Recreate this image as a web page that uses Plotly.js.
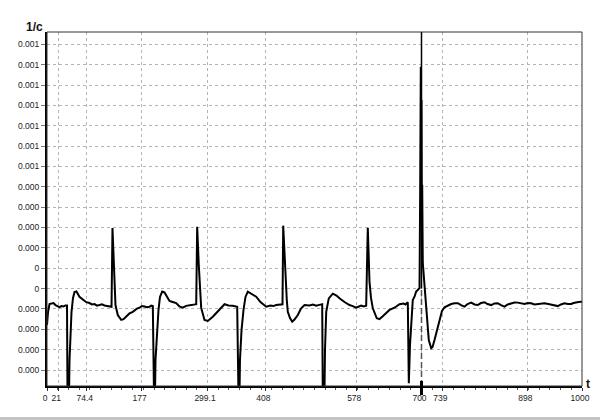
<!DOCTYPE html>
<html>
<head>
<meta charset="utf-8">
<script src="https://cdn.plot.ly/plotly-3.0.1.min.js"></script>
<style>
  html, body { margin: 0; padding: 0; background: #fff; }
  #chart { width: 600px; height: 420px; }
</style>
</head>
<body>
<div id="chart"></div>
<script>
// time axis samples (t)
const tValues = [
  0, 1.9, 4.7, 8.4, 12.1, 15.9, 19.6, 23.4, 27.1, 30.8, 34.6, 37.4,
  38.7, 40.2, 42.1, 43.9, 45.8, 48.6, 51.4, 55.1, 60.7, 68.2, 73.5, 79.4,
  84, 88.8, 93.5, 98.1, 102.8, 107.5, 115, 120.6,
  122.4, 124.3, 126.2, 128, 132.3, 138.7, 143, 148, 154.2, 160.4, 167.3,
  172.9, 177.5, 182.2, 187, 191.6, 195, 197.8,
  199.1, 200.9, 202.8, 205.6, 208.4, 211.2, 215.3, 219.6, 224, 229, 235,
  241.5, 247.5, 253.8, 260, 266.4, 272.5, 278.9,
  280.7, 283.7, 286, 288.2, 294.4, 300.6, 309.9, 316, 322.4, 331.8, 339.3,
  347.3, 355.5,
  356.6, 358.9, 360.7, 363.6, 367.3, 371, 375.3, 380.4, 391, 399, 404.5,
  409.7, 417.8, 423, 428.4, 434, 440.2,
  441.5, 445.8, 448.2, 450.1, 454.2, 458.3, 462.6, 468.8, 474.8, 481.3,
  490.7, 497, 503.2, 509, 514.4,
  515.9, 517.8, 519.6, 521.9, 526.7, 534.2, 541.1, 546.7, 556.1, 565.4,
  571.5, 577.9, 583, 587.3, 592, 596.6,
  599.6, 602.8, 605.6, 609, 616.4, 621.5, 627.1, 634, 640.2, 649.5, 654,
  658.9, 666.4, 670, 674.4,
  676.3, 678.5, 680.7, 683.7, 686.9, 690, 693.1, 696.3,
  697.4, 698.7, 699.4, 700, 700.6, 701.3, 702.4, 705.6, 708.8, 711.2, 713.6, 718.1,
  720.6, 724.3, 729, 733.6, 738.3, 743, 748.6, 755.5, 761.7, 767.9,
  774.8, 780.4, 786, 792.9, 799.1, 805.2, 811.2, 817.8, 823.4, 830.3,
  836.4, 842.6, 848.6, 855.1, 861.3, 867.7, 873.8, 880, 886, 892.5,
  898.7, 905, 911.2, 920.6, 929.9, 939.3, 946.7, 954.8, 960.7, 967.3,
  973.5, 979.8, 984.1, 989.2, 993.5, 998.5, 1000
];

// 1/c values
const invC = [
  -0.79e-4, -0.15e-4, 0.24e-4, 0.27e-4, 0.29e-4, 0.19e-4, 0.12e-4, 0.09e-4, 0.14e-4, 0.12e-4, 0.17e-4, 0.17e-4,
  -6e-4, -6e-4, -2.51e-4, -1.04e-4, -0.15e-4, 0.54e-4, 0.83e-4, 0.86e-4, 0.60e-4, 0.44e-4, 0.33e-4, 0.29e-4,
  0.22e-4, 0.24e-4, 0.16e-4, 0.19e-4, 0.23e-4, 0.17e-4, 0.14e-4, 0.11e-4,
  3.97e-4, 2.65e-4, 1.17e-4, 0.19e-4, -0.30e-4, -0.54e-4, -0.50e-4, -0.38e-4, -0.22e-4, -0.14e-4, 0.0,
  0.06e-4, 0.14e-4, 0.12e-4, 0.08e-4, 0.11e-4, 0.16e-4, 0.14e-4,
  -6e-4, -6e-4, -2.51e-4, -1.04e-4, -0.05e-4, 0.59e-4, 0.85e-4, 0.81e-4, 0.60e-4, 0.39e-4, 0.34e-4,
  0.29e-4, 0.12e-4, 0.06e-4, 0.15e-4, 0.19e-4, 0.20e-4, 0.23e-4,
  4.04e-4, 2.16e-4, 0.93e-4, 0.05e-4, -0.54e-4, -0.59e-4, -0.38e-4, -0.20e-4, -0.05e-4, 0.23e-4, 0.17e-4,
  0.16e-4, 0.11e-4,
  -6e-4, -6e-4, -2.51e-4, -1.04e-4, -0.05e-4, 0.59e-4, 0.85e-4, 0.78e-4, 0.60e-4, 0.34e-4, 0.20e-4,
  0.11e-4, 0.17e-4, 0.14e-4, 0.19e-4, 0.21e-4, 0.23e-4,
  4.09e-4, 1.34e-4, 0.44e-4, -0.14e-4, -0.45e-4, -0.63e-4, -0.52e-4, -0.30e-4, 0.02e-4, 0.19e-4,
  0.17e-4, 0.22e-4, 0.16e-4, 0.20e-4, 0.23e-4,
  -6e-4, -6e-4, -2.02e-4, -0.14e-4, 0.52e-4, 0.75e-4, 0.66e-4, 0.52e-4, 0.34e-4, 0.19e-4,
  0.14e-4, 0.06e-4, 0.12e-4, 0.16e-4, 0.12e-4, 0.16e-4,
  3.99e-4, 1.34e-4, 0.54e-4, 0.03e-4, -0.46e-4, -0.50e-4, -0.37e-4, -0.22e-4, -0.05e-4, 0.06e-4, 0.15e-4,
  0.23e-4, 0.27e-4, 0.22e-4, 0.33e-4,
  -3.65e-4, -1.77e-4, -0.79e-4, 0.44e-4, 0.60e-4, 0.85e-4, 0.93e-4, 1.03e-4,
  5.35e-4, 11.90e-4, 7.20e-4, 10.26e-4, 4.80e-4, 6.10e-4, 2.26e-4, 1.09e-4, -0.05e-4, -1.04e-4, -1.53e-4, -1.93e-4,
  -1.87e-4, -1.53e-4, -1.04e-4, -0.45e-4, -0.10e-4, 0.08e-4, 0.17e-4, 0.24e-4, 0.28e-4, 0.28e-4,
  0.17e-4, 0.11e-4, 0.24e-4, 0.31e-4, 0.22e-4, 0.19e-4, 0.29e-4, 0.33e-4, 0.24e-4, 0.19e-4,
  0.27e-4, 0.28e-4, 0.19e-4, 0.11e-4, 0.22e-4, 0.28e-4, 0.32e-4, 0.31e-4, 0.27e-4, 0.24e-4,
  0.29e-4, 0.28e-4, 0.22e-4, 0.24e-4, 0.28e-4, 0.23e-4, 0.20e-4, 0.14e-4, 0.22e-4, 0.28e-4,
  0.24e-4, 0.24e-4, 0.29e-4, 0.33e-4, 0.34e-4, 0.35e-4, 0.35e-4
];

// axis ticks
const xTickVals = [0, 21, 74.4, 177, 299.1, 408, 578, 700, 739, 898, 1000];
const xTickText = ['0', '21', '74.4', '177', '299.1', '408', '578', '700', '739', '898', '1000'];
const yTickVals = [13e-4, 12e-4, 11e-4, 10e-4, 9e-4, 8e-4, 7e-4, 6e-4, 5e-4, 4e-4, 3e-4, 2e-4, 1e-4, 0, -1e-4, -2e-4, -3e-4];
const yTickText = ['0.001', '0.001', '0.001', '0.001', '0.001', '0.001', '0.001',
                   '0.000', '0.000', '0.000', '0.000', '0', '0',
                   '0.000', '0.000', '0.000', '0.000'];
const cursorT = 700;

const yRange = [-3.786e-4, 13.604e-4];
const font = 'Arial, "Liberation Sans", sans-serif';

const trace = {
  x: tValues, y: invC, type: 'scatter', mode: 'lines',
  line: {color: '#000', width: 2}, hoverinfo: 'skip'
};

const layout = {
  width: 600, height: 420,
  margin: {l: 47, r: 18, t: 32, b: 34, pad: 0},
  paper_bgcolor: '#fff', plot_bgcolor: '#fff',
  showlegend: false,
  font: {family: font, size: 9, color: '#222'},
  xaxis: {
    range: [0, 1000], tickmode: 'array', tickvals: xTickVals, ticktext: xTickText,
    showgrid: true, gridcolor: '#b4b4b4', gridwidth: 1, griddash: '3px,3px',
    showline: true, linecolor: '#000', linewidth: 2, zeroline: false,
    ticks: 'outside', ticklen: 3, tickcolor: '#333', ticklabelshift: -2,
    tickfont: {family: font, size: 8.5, color: '#222'},
    minor: {tick0: 0, dtick: 20, ticks: 'outside', ticklen: 2, tickcolor: '#555', showgrid: false}
  },
  yaxis: {
    range: yRange, tickmode: 'array', tickvals: yTickVals, ticktext: yTickText,
    showgrid: true, gridcolor: '#b4b4b4', gridwidth: 1, griddash: '3px,3px',
    showline: true, linecolor: '#000', linewidth: 2, zeroline: false,
    ticks: 'outside', ticklen: 4, tickcolor: '#777',
    tickfont: {family: font, size: 8.5, color: '#222'}
  },
  shapes: [
    {type: 'rect', xref: 'paper', yref: 'paper', x0: 0, x1: 1, y0: 0, y1: 1,
     line: {color: '#333', width: 1}, layer: 'above'},
    {type: 'line', xref: 'x', yref: 'y', x0: cursorT, x1: cursorT, y0: 1e-4, y1: yRange[1],
     line: {color: '#000', width: 1.5}},
    {type: 'line', xref: 'x', yref: 'y', x0: cursorT, x1: cursorT, y0: yRange[0], y1: 1e-4,
     line: {color: '#555', width: 1.5, dash: '6px,3px'}},
    {type: 'line', xref: 'x', yref: 'paper', x0: cursorT, x1: cursorT, y0: -0.0254, y1: 0.0141,
     line: {color: '#000', width: 3}},
    {type: 'rect', xref: 'paper', yref: 'paper', x0: -0.09, x1: 1.04, y0: -0.096, y1: -0.0876,
     fillcolor: '#c4c4c4', line: {width: 0}}
  ],
  annotations: [
    {text: '<b>1/c</b>', xref: 'paper', yref: 'paper', x: -0.0234, y: 1.014,
     xanchor: 'center', yanchor: 'middle', showarrow: false,
     font: {family: font, size: 12, color: '#111'}},
    {text: '<b>t</b>', xref: 'paper', yref: 'paper', x: 1.011, y: 0.006,
     xanchor: 'center', yanchor: 'middle', showarrow: false,
     font: {family: font, size: 12, color: '#111'}}
  ]
};

Plotly.newPlot('chart', [trace], layout, {displayModeBar: false, staticPlot: true});
</script>
</body>
</html>
